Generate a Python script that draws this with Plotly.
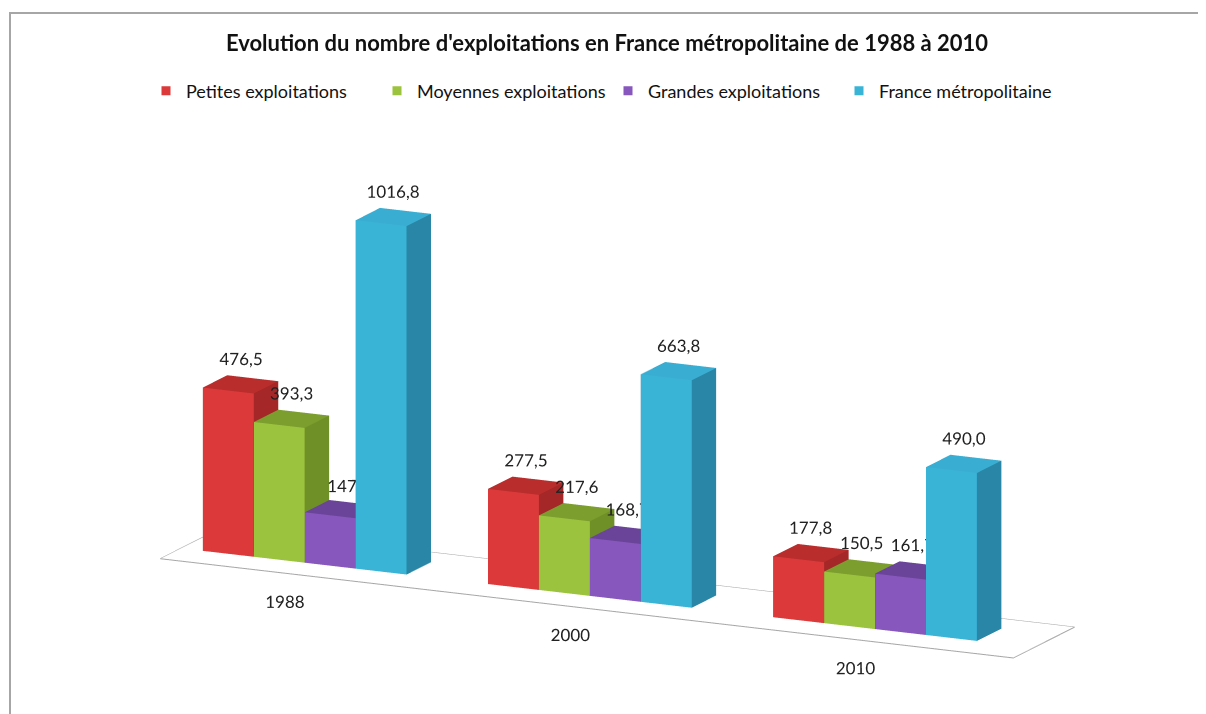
import plotly.graph_objects as go

years = ["1988", "2000", "2010"]
series = ["Petites exploitations", "Moyennes exploitations", "Grandes exploitations", "France métropolitaine"]
values = {
    "Petites exploitations": [476.5, 277.5, 177.8],
    "Moyennes exploitations": [393.3, 217.6, 150.5],
    "Grandes exploitations": [147.0, 168.7, 161.7],
    "France métropolitaine": [1016.8, 663.8, 490.0],
}
labels = {
    "Petites exploitations": ["476,5", "277,5", "177,8"],
    "Moyennes exploitations": ["393,3", "217,6", "150,5"],
    "Grandes exploitations": ["147", "168,7", "161,7"],
    "France métropolitaine": ["1016,8", "663,8", "490,0"],
}
front_colors = ["#dc3a3a", "#9cc33d", "#8757bd", "#39b4d7"]
top_colors = ["#b92d2d", "#7c9e2e", "#6a4499", "#3aaed2"]
side_colors = ["#a52727", "#6f8f27", "#5b3a86", "#2a86a6"]

FONT = "Lato"
BAR_W = 1.0
GAP = 1.6
DEPTH = 1.0
Z_UNIT = 160.0  # value per bar-width unit of height
n_series = len(series)
period = n_series * BAR_W + GAP
W, H = 1198, 706


def box(x0, x1, y0, y1, h):
    xs = [x0, x1, x1, x0, x0, x1, x1, x0]
    ys = [y0, y0, y1, y1, y0, y0, y1, y1]
    zs = [0, 0, 0, 0, h, h, h, h]
    tris = [
        (0, 1, 5, "front"), (0, 5, 4, "front"),
        (3, 2, 6, "back"), (3, 6, 7, "back"),
        (0, 3, 7, "left"), (0, 7, 4, "left"),
        (1, 2, 6, "right"), (1, 6, 5, "right"),
        (4, 5, 6, "top"), (4, 6, 7, "top"),
        (0, 1, 2, "bottom"), (0, 2, 3, "bottom"),
    ]
    return xs, ys, zs, tris


fig = go.Figure()

# floor
fx0, fx1 = -0.45, (len(years) - 1) * period + n_series * BAR_W + 1.1
fy0, fy1 = -0.8, 1.7
fig.add_trace(go.Mesh3d(
    x=[fx0, fx1, fx1, fx0], y=[fy0, fy0, fy1, fy1], z=[-2, -2, -2, -2],
    i=[0, 0], j=[1, 2], k=[2, 3], color="white", opacity=1,
    lighting=dict(ambient=1, diffuse=0, specular=0), hoverinfo="skip", showlegend=False,
))
fig.add_trace(go.Scatter3d(
    x=[fx0, fx1, fx1, fx0, fx0], y=[fy0, fy0, fy1, fy1, fy0], z=[-2] * 5,
    mode="lines", line=dict(color="#a6a6a6", width=2), hoverinfo="skip", showlegend=False,
))

for si, s in enumerate(series):
    X, Y, Z, I, J, K, FC = [], [], [], [], [], [], []
    tx, ty, tz = [], [], []
    for gi, v in enumerate(values[s]):
        x0 = gi * period + si * BAR_W
        xs, ys, zs, tris = box(x0, x0 + BAR_W, 0, DEPTH, v)
        base = len(X)
        X += xs; Y += ys; Z += zs
        for a, b, c, face in tris:
            I.append(base + a); J.append(base + b); K.append(base + c)
            FC.append({"front": front_colors[si], "top": top_colors[si],
                       "right": side_colors[si]}.get(face, side_colors[si]))
        tx.append(x0 + BAR_W / 2); ty.append(DEPTH / 2); tz.append(v)
    fig.add_trace(go.Mesh3d(
        x=X, y=Y, z=Z, i=I, j=J, k=K, facecolor=FC, flatshading=True,
        lighting=dict(ambient=1, diffuse=0, specular=0, fresnel=0), hoverinfo="skip",
        showlegend=False,
    ))
    fig.add_trace(go.Scatter3d(
        x=tx, y=ty, z=tz, mode="text", text=labels[s], textposition="top center",
        textfont=dict(family=FONT, size=17, color="#222222"), hoverinfo="skip", showlegend=False,
    ))
    fig.add_trace(go.Scatter3d(
        x=[None], y=[None], z=[None], mode="markers", name=s,
        marker=dict(symbol="square", size=9, color=front_colors[si]),
    ))

# category labels (below the front edge of the floor)
fig.add_trace(go.Scatter3d(
    x=[gi * period + n_series * BAR_W / 2 for gi in range(len(years))],
    y=[fy0] * len(years), z=[-85] * len(years), mode="text", text=years,
    textposition="middle center",
    textfont=dict(family=FONT, size=17, color="#222222"), hoverinfo="skip", showlegend=False,
))

xr = [-1.3, 16.5]
yr = [-1.1, 2.5]
zr = [-150, 1100]
k = 0.2
aspect = dict(x=(xr[1] - xr[0]) * k, y=(yr[1] - yr[0]) * k, z=(zr[1] - zr[0]) / Z_UNIT * k)

axis_off = dict(visible=False, showbackground=False, showgrid=False, zeroline=False, showspikes=False)
D = 2.2
fig.update_layout(
    width=W, height=H,
    margin=dict(l=0, r=0, t=0, b=0),
    paper_bgcolor="white",
    title=dict(text="<b>Evolution du nombre d'exploitations en France métropolitaine de 1988 à 2010</b>",
               x=0.5, xanchor="center", y=1 - 35 / H, yanchor="middle",
               font=dict(family=FONT, size=22, color="#111111")),
    legend=dict(orientation="h", x=138 / W, xanchor="left", y=1 - 83 / H, yanchor="middle",
                font=dict(family=FONT, size=18, color="#111111"), itemwidth=30,
                entrywidth=186, entrywidthmode="pixels"),
    scene=dict(
        domain=dict(x=[0.0, 1.0], y=[0.01, 0.81]),
        xaxis=dict(axis_off, range=xr),
        yaxis=dict(axis_off, range=yr),
        zaxis=dict(axis_off, range=zr),
        aspectmode="manual", aspectratio=aspect,
        camera=dict(eye=dict(x=0.42 * D, y=-0.874 * D, z=0.242 * D), up=dict(x=0, y=0, z=1),
                    center=dict(x=0, y=0, z=0), projection=dict(type="orthographic")),
        bgcolor="white",
    ),
    shapes=[dict(type="rect", xref="paper", yref="paper", x0=2 / W, x1=1.02,
                 y0=-0.05, y1=1 - 5 / H, line=dict(color="#a6a6a6", width=2))],
    hovermode=False,
)

fig.write_html("out.html")
